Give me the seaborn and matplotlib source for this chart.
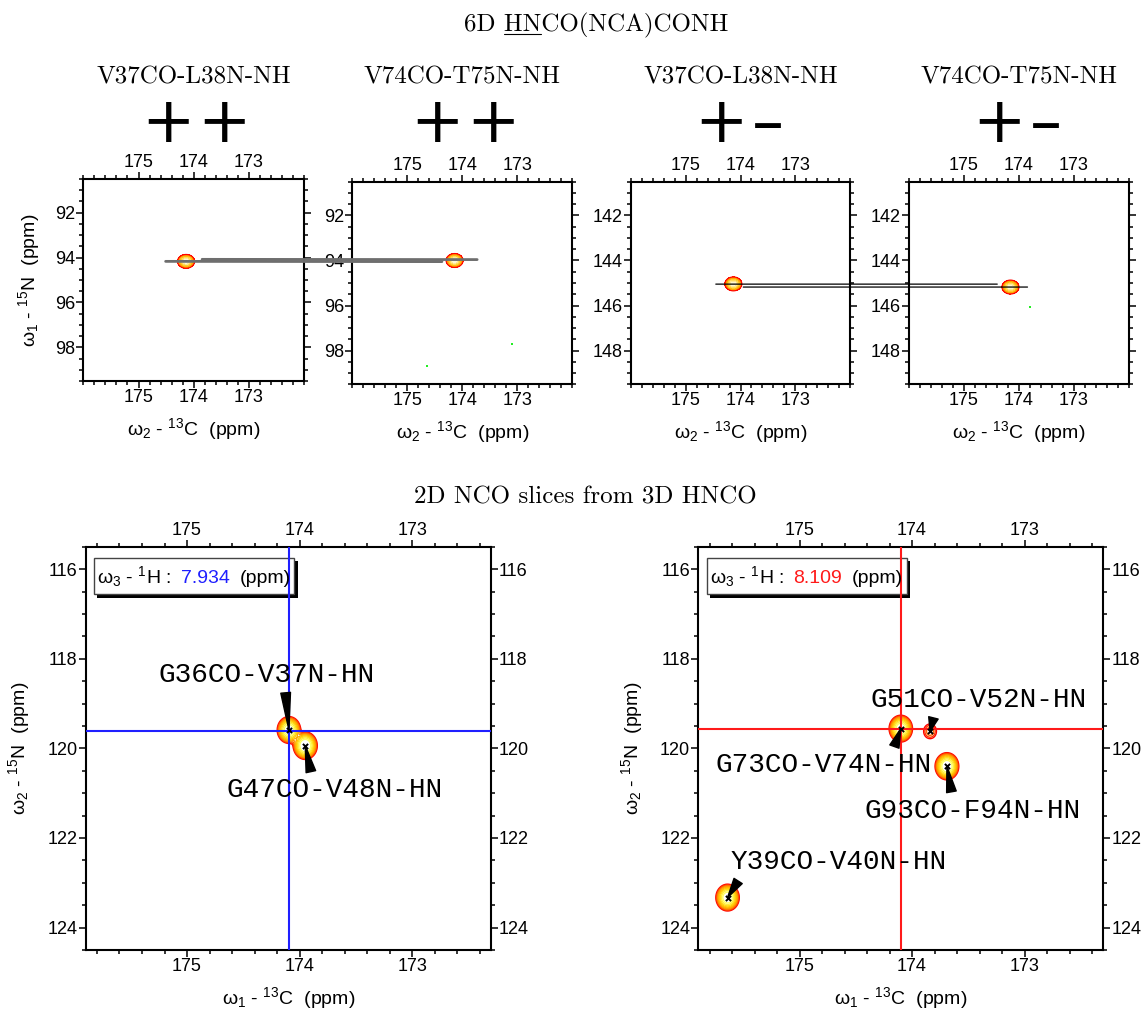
import numpy as np
import pandas as pd
import matplotlib
matplotlib.use("Agg")
import matplotlib.pyplot as plt
import seaborn as sns
from matplotlib.patches import ConnectionPatch, Rectangle
from matplotlib.lines import Line2D
from matplotlib.ticker import MultipleLocator
from matplotlib.offsetbox import TextArea, HPacker, AnchoredOffsetbox

# ---- top row: 6D HNCO(NCA)CONH strips ----
strip_titles = ["V37CO-L38N-NH", "V74CO-T75N-NH", "V37CO-L38N-NH", "V74CO-T75N-NH"]
strip_signs = [["+", "+"], ["+", "+"], ["+", "\u2013"], ["+", "\u2013"]]
strip_c13 = [174.14, 174.14, 174.13, 174.15]
strip_n15 = [94.17, 94.00, 145.04, 145.18]
strip_xlim = (176, 172)
strip_xticks = [175, 174, 173]
strip_ylims = [(99.5, 90.5), (99.5, 90.5), (149.5, 140.5), (149.5, 140.5)]
strip_yticks = [[92, 94, 96, 98], [92, 94, 96, 98], [142, 144, 146, 148], [142, 144, 146, 148]]

# tiny noise points
noise_panel = [1, 1, 3]
noise_c13 = [174.64, 173.09, 173.79]
noise_n15 = [98.70, 97.69, 146.05]

# connecting lines between strips
link_from = [0, 0, 2, 2]
link_to = [1, 1, 3, 3]
link_from_c13 = [174.51, 173.85, 174.45, 173.95]
link_from_n15 = [94.17, 94.08, 145.05, 145.18]
link_to_c13 = [174.37, 173.73, 174.39, 173.84]
link_to_n15 = [94.05, 93.96, 145.05, 145.18]

# ---- bottom row: 2D NCO slices from 3D HNCO ----
slice_h1 = ["7.934", "8.109"]
slice_cross_c13 = [174.09, 174.10]
slice_cross_n15 = [119.61, 119.56]
slice_xlim = (175.9, 172.3)
slice_ylim = (124.5, 115.5)
slice_xticks = [175, 174, 173]
slice_yticks = [116, 118, 120, 122, 124]

peak_slice = [0, 0, 1, 1, 1, 1]
peak_names = ["G36CO-V37N-HN", "G47CO-V48N-HN", "G73CO-V74N-HN",
              "G51CO-V52N-HN", "G93CO-F94N-HN", "Y39CO-V40N-HN"]
peak_c13 = [174.095, 173.95, 174.10, 173.84, 173.69, 175.64]
peak_n15 = [119.59, 119.94, 119.56, 119.62, 120.40, 123.33]
peak_height = [1.0, 1.2, 1.0, 0.105, 1.1, 1.0]

# label and pointer placement (ppm)
label_c13 = [174.29, 173.69, 174.79, 173.41, 173.46, 174.65]
label_n15 = [118.36, 120.92, 120.37, 118.93, 121.39, 122.54]
wedge_c13 = [174.124, 173.90, 174.157, 173.81, 173.65, 175.546]
wedge_n15 = [118.76, 120.52, 119.96, 119.32, 120.97, 122.96]

cross_colors = ["#1f1fff", "#ff1a1a"]
link_colors = ["#6e6e6e", "#6e6e6e", "black", "black"]
link_widths = [2.0, 2.0, 0.9, 0.9]
sign_offsets = [[-28, 28], [-28, 28], [-22, 26], [-22, 26]]

sns.set_style("ticks")
plt.rcParams["font.family"] = ["Liberation Sans", "DejaVu Sans"]
plt.rcParams["mathtext.fontset"] = "custom"
plt.rcParams["mathtext.rm"] = "Liberation Sans"
plt.rcParams["mathtext.it"] = "Liberation Sans:italic"
plt.rcParams["mathtext.bf"] = "Liberation Sans:bold"
for k in ["axes.edgecolor", "xtick.color", "ytick.color", "text.color", "axes.labelcolor"]:
    plt.rcParams[k] = "black"

W, H = 1148, 1013
fig = plt.figure(figsize=(W / 100, H / 100), dpi=100)
serif = dict(family="cmr10", fontsize=18)


def px_axes(l, t, r, b):
    return fig.add_axes([l / W, 1 - b / H, (r - l) / W, (b - t) / H])


def style(ax, xlim, ylim, xticks, yticks, labelright):
    ax.set_xlim(*xlim)
    ax.set_ylim(*ylim)
    ax.set_xticks(xticks)
    ax.set_yticks(yticks)
    ax.xaxis.set_minor_locator(MultipleLocator(0.2))
    ax.yaxis.set_minor_locator(MultipleLocator(0.5))
    ax.tick_params(which="both", direction="out", top=True, right=True,
                   labeltop=True, labelright=labelright, width=1.1,
                   labelsize=13, pad=0.8)
    ax.tick_params(which="major", length=5)
    ax.tick_params(which="minor", length=3.2)
    for s in ax.spines.values():
        s.set_linewidth(1.5)


strip_boxes = [(83.3, 179, 304.3, 381), (352.3, 181.7, 572.3, 384.3),
               (630.7, 181.7, 850.3, 384.3), (908.7, 181.7, 1128.7, 384.3)]
slice_boxes = [(85.7, 546.7, 491, 950), (698.3, 546.7, 1103.3, 950)]

top_levels = list(0.04 * 1.4 ** np.arange(10)) + [1.01]
top_colors = sns.blend_palette(["#ff2a00", "#ff7f00", "#ffb000", "#ffd84a", "#fff6d0"], 10)

strip_axes = []
for i, box in enumerate(strip_boxes):
    ax = px_axes(*box)
    strip_axes.append(ax)
    lo, hi = min(strip_ylims[i]), max(strip_ylims[i])
    X, Y = np.meshgrid(np.linspace(172, 176, 401), np.linspace(lo, hi, 451))
    Z = np.exp(-0.5 * ((X - strip_c13[i]) / 0.061) ** 2 - 0.5 * ((Y - strip_n15[i]) / 0.122) ** 2)
    ax.contourf(X, Y, Z, levels=top_levels, colors=top_colors)
    ax.contour(X, Y, Z, levels=[top_levels[0]], colors="#ff0000", linewidths=0.8)
    nz = pd.DataFrame({"c13": noise_c13, "n15": noise_n15, "panel": noise_panel})
    nz = nz[nz["panel"] == i]
    if len(nz):
        sns.scatterplot(data=nz, x="c13", y="n15", marker="s", s=3, color="#22ee22",
                        linewidth=0, ax=ax)
    style(ax, strip_xlim, strip_ylims[i], strip_xticks, strip_yticks[i], False)
    ax.set_xlabel("\u03c9$_2$ - $^{13}$C  (ppm)", fontsize=14, labelpad=7)
    ax.set_ylabel("\u03c9$_1$ - $^{15}$N  (ppm)" if i == 0 else "", fontsize=14, labelpad=9)
    cx = (box[0] + box[2]) / 2
    fig.text(cx / W, 1 - 83.3 / H, strip_titles[i], ha="center", va="baseline", **serif)
    # the +/- signs, mathregular keeps their boxes tight to the ink
    for sign, off in zip(strip_signs[i], sign_offsets[i]):
        fig.text((cx + off) / W, 1 - 123.5 / H, r"$\mathregular{%s}$" % sign,
                 ha="center", va="center", family="DejaVu Sans", fontsize=46)

for a, b, x0, y0, x1, y1, c, lw in zip(link_from, link_to, link_from_c13, link_from_n15,
                                       link_to_c13, link_to_n15, link_colors, link_widths):
    con = ConnectionPatch(xyA=(x0, y0), coordsA=strip_axes[a].transData,
                          xyB=(x1, y1), coordsB=strip_axes[b].transData,
                          color=c, lw=lw, zorder=10)
    fig.add_artist(con)

slice_levels = 0.04 * 1.4 ** np.arange(9)
slice_colors = sns.blend_palette(["#ff0000", "#ff8c00", "#ffd000", "#ffff60"], 9)
peaks = pd.DataFrame({"slice": peak_slice, "name": peak_names, "c13": peak_c13,
                      "n15": peak_n15, "h": peak_height, "lc": label_c13,
                      "ln": label_n15, "wc": wedge_c13, "wn": wedge_n15})

for k, box in enumerate(slice_boxes):
    ax = px_axes(*box)
    pk = peaks[peaks["slice"] == k]
    X, Y = np.meshgrid(np.linspace(172.3, 175.9, 721), np.linspace(115.5, 124.5, 901))
    Z = np.zeros_like(X)
    for _, p in pk.iterrows():
        Z += p["h"] * np.exp(-0.5 * ((X - p["c13"]) / 0.041) ** 2 - 0.5 * ((Y - p["n15"]) / 0.118) ** 2)
    ax.contour(X, Y, Z, levels=slice_levels, colors=slice_colors, linewidths=1.0, zorder=2)
    ax.axvline(slice_cross_c13[k], color=cross_colors[k], lw=1.5, zorder=4)
    ax.axhline(slice_cross_n15[k], color=cross_colors[k], lw=1.5, zorder=4)
    sns.scatterplot(data=pk, x="c13", y="n15", marker="x", color="black", s=14,
                    linewidth=1.4, ax=ax, zorder=6)
    for _, p in pk.iterrows():
        ax.annotate("", xy=(p["c13"], p["n15"]), xytext=(p["wc"], p["wn"]),
                    arrowprops=dict(arrowstyle="wedge,tail_width=0.35,shrink_factor=0.5",
                                    fc="black", ec="black", shrinkA=0, shrinkB=0,
                                    mutation_scale=20), zorder=7)
        ax.text(p["lc"], p["ln"], p["name"], ha="center", va="center",
                family="Liberation Mono", fontsize=20, zorder=8)
    style(ax, slice_xlim, slice_ylim, slice_xticks, slice_yticks, True)
    ax.set_xlabel("\u03c9$_1$ - $^{13}$C  (ppm)", fontsize=14, labelpad=7)
    ax.set_ylabel("\u03c9$_2$ - $^{15}$N  (ppm)", fontsize=14, labelpad=11)
    # info box with shadow
    ax.add_patch(Rectangle((0.029, 0.874), 0.494, 0.091, transform=ax.transAxes,
                           fc="black", ec="none", zorder=3))
    ax.add_patch(Rectangle((0.021, 0.882), 0.494, 0.091, transform=ax.transAxes,
                           fc="white", ec="#444444", lw=1.0, zorder=3.5))
    parts = [TextArea("\u03c9$_3$ - $^1$H :", textprops=dict(fontsize=14)),
             TextArea(slice_h1[k], textprops=dict(fontsize=14, color=cross_colors[k])),
             TextArea("(ppm)", textprops=dict(fontsize=14))]
    pack = HPacker(children=parts, align="baseline", pad=0, sep=7)
    anc = AnchoredOffsetbox(loc="center left", child=pack, frameon=False, pad=0,
                            borderpad=0, bbox_to_anchor=(0.028, 0.927),
                            bbox_transform=ax.transAxes)
    anc.set_zorder(5)
    ax.add_artist(anc)

title = fig.text(596 / W, 1 - 31 / H, "6D HNCO(NCA)CONH", ha="center", va="baseline", **serif)
fig.text(585 / W, 1 - 503 / H, "2D NCO slices from 3D HNCO", ha="center", va="baseline", **serif)

# underline "HN" in the title
fig.canvas.draw()
rend = fig.canvas.get_renderer()


def text_width(s):
    t = fig.text(0, 0, s, **serif)
    w = t.get_window_extent(rend).width
    t.remove()
    return w


full = title.get_window_extent(rend)
u0 = full.x0 + full.width - text_width("HNCO(NCA)CONH")
u1 = full.x0 + full.width - text_width("CO(NCA)CONH")
fig.add_artist(Line2D([u0 / W, u1 / W], [1 - 34.5 / H, 1 - 34.5 / H],
                      transform=fig.transFigure, color="black", lw=0.8))

fig.savefig("out.png", dpi=100)
